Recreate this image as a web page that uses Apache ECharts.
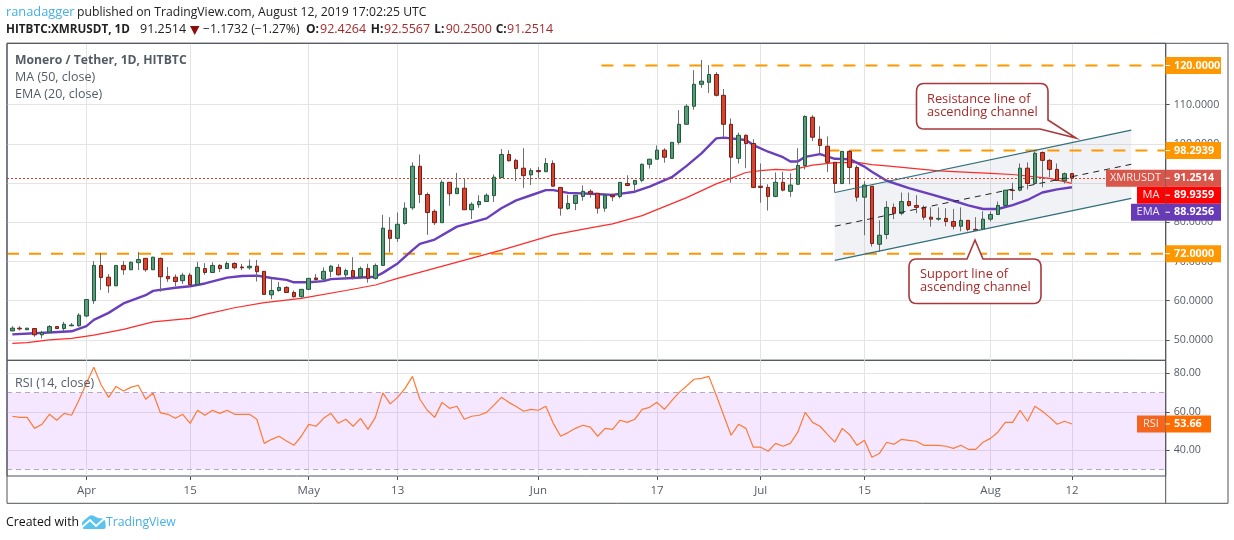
<!DOCTYPE html>
<html><head><meta charset="utf-8">
<style>html,body{margin:0;padding:0;background:#fff}#c{width:1234px;height:540px}</style>
<script src="https://cdn.jsdelivr.net/npm/echarts@6/dist/echarts.min.js"></script>
</head><body><div id="c"></div>
<script>
// Dates are day indexes: 0 = 22 Mar 2019, 143 = 12 Aug 2019
const tickDays = [10,24,40,52,71,87,101,115,132,143];
const tickNames = ['Apr','15','May','13','Jun','17','Jul','15','Aug','12'];
const priceTicks = [50,60,70,80,90,100,110];
const rsiTicks = [40,60,80];
// [open, close, low, high]
const ohlc = [
[52.3,53.0,52.2,53.5],[53.0,52.8,52.4,53.5],[52.6,53.0,52.6,53.0],[52.9,51.3,50.8,52.9],[51.3,51.9,50.4,52.3],
[52.0,53.4,51.8,53.8],[53.4,52.9,52.8,53.5],[52.9,54.0,52.2,54.6],[53.6,53.8,53.5,54.3],[53.6,56.3,53.4,56.8],
[56.1,60.3,55.8,60.4],[60.0,69.0,59.2,70.1],[69.0,65.9,62.7,72.2],[66.0,63.8,62.0,66.8],[63.8,69.0,63.8,69.0],
[69.0,67.9,66.6,70.1],[67.9,69.8,67.8,70.0],[69.7,70.5,67.8,72.4],[70.8,67.9,67.4,70.9],[67.9,71.1,67.8,71.2],
[70.8,66.1,62.3,71.0],[66.2,65.6,64.8,68.6],[66.0,64.9,63.7,66.7],[65.1,66.5,64.3,67.1],[66.5,64.1,63.7,67.1],
[64.1,68.5,63.9,69.9],[68.2,67.2,66.6,69.6],[67.2,69.0,67.1,69.8],[69.0,68.2,67.3,69.3],[68.2,69.5,68.1,70.0],
[69.5,68.4,68.0,69.8],[68.6,68.4,67.8,69.4],[68.4,68.8,67.9,70.5],[68.8,67.4,64.9,70.4],[67.5,61.6,61.6,67.5],
[61.5,62.6,60.4,65.5],[62.6,63.4,62.3,64.8],[63.4,62.1,62.0,63.7],[62.1,61.0,60.8,62.6],[61.0,62.9,60.8,62.9],
[62.9,65.7,62.7,65.7],[65.8,65.4,64.8,66.8],[65.5,67.5,64.9,68.5],[67.5,68.8,66.0,69.1],[68.5,66.6,66.4,69.3],
[66.6,67.7,65.4,68.2],[67.7,66.1,65.4,71.1],[66.1,68.2,65.5,68.7],[68.2,65.7,64.6,69.4],[65.7,69.0,65.4,69.5],
[69.0,78.5,69.0,81.9],[78.0,75.9,72.3,81.3],[75.9,79.5,75.0,82.5],[79.7,83.6,79.4,85.1],[83.7,94.3,83.2,95.3],
[94.3,87.1,84.9,97.3],[87.1,82.5,76.8,87.6],[82.8,79.9,79.3,83.3],[79.9,90.2,79.9,90.7],[90.2,87.3,84.2,90.2],
[87.3,88.7,87.3,92.6],[88.7,83.2,83.2,91.2],[83.2,84.6,80.8,85.1],[84.5,85.3,83.7,86.9],[85.3,86.9,85.3,87.4],
[86.8,91.5,85.2,92.2],[91.4,97.3,91.4,98.7],[97.3,95.7,95.5,98.4],[95.8,93.7,90.5,96.2],[93.8,91.9,88.8,98.9],
[92.1,93.2,89.5,93.8],[93.2,92.9,91.2,94.1],[92.9,95.0,92.9,96.4],[95.0,89.2,89.2,95.8],[88.9,83.6,81.7,88.9],
[83.5,84.8,83.2,87.0],[84.8,86.9,83.1,86.9],[86.6,87.9,85.5,89.4],[87.9,87.4,86.3,88.4],[87.4,83.6,82.2,87.4],
[83.6,86.9,82.7,87.4],[86.9,86.5,85.4,87.3],[86.6,90.2,86.1,90.2],[89.9,89.4,89.2,92.0],[89.7,90.7,87.8,90.7],
[90.7,94.8,90.2,95.0],[94.8,96.1,93.7,96.1],[96.1,98.4,96.1,99.6],[98.4,96.6,95.2,98.9],[96.3,100.4,96.3,100.4],
[100.4,105.0,99.8,108.6],[105.0,109.6,105.0,110.1],[109.6,115.2,108.7,118.8],[115.2,116.0,114.3,121.4],[115.7,117.7,113.0,120.1],
[117.7,112.4,112.1,118.3],[112.4,105.0,101.7,114.0],[105.0,96.6,90.1,106.5],[96.3,102.2,95.0,102.9],[102.2,100.1,93.8,102.4],
[100.1,88.9,88.7,101.2],[89.2,88.9,85.0,95.0],[88.9,86.6,83.0,89.7],[86.6,90.2,86.4,92.7],[90.2,88.2,87.9,92.9],
[87.9,89.5,86.5,92.5],[89.7,94.5,89.7,98.9],[94.5,107.0,93.5,107.3],[106.8,101.7,100.7,107.3],[101.2,99.6,97.6,104.5],
[99.4,95.3,92.8,101.9],[95.3,89.9,87.6,95.3],[89.9,98.1,89.7,98.1],[98.1,94.0,89.7,98.4],[94.0,86.4,85.3,94.5],
[86.4,89.5,76.7,90.5],[89.2,74.6,73.8,89.2],[74.4,76.7,72.5,80.5],[76.9,83.8,75.7,85.4],[83.8,82.3,80.8,84.8],
[82.3,85.3,81.8,87.6],[85.3,84.3,84.0,87.6],[84.3,83.8,82.3,86.9],[83.8,81.3,80.6,84.3],[81.3,80.8,78.9,83.8],
[80.8,81.0,80.4,83.8],[81.0,80.2,79.0,83.6],[80.2,79.0,78.2,83.4],[79.0,80.5,77.7,83.8],[80.5,78.2,77.7,80.5],
[78.2,78.0,78.0,81.3],[78.2,80.8,78.0,82.8],[80.8,82.0,80.2,82.8],[82.0,84.3,82.0,85.3],[84.3,88.2,84.1,88.2],
[88.2,88.1,85.7,90.1],[88.2,93.8,87.9,95.0],[93.8,89.9,88.4,95.3],[89.9,97.6,89.7,98.1],[97.8,95.8,88.9,98.1],
[95.8,93.5,91.5,96.1],[93.5,90.7,90.6,95.0],[90.6,92.4,89.9,92.7],[92.4264,91.2514,90.25,92.5567]
];
// moving averages: [day, value] as read at knots of the picture
const ema20 = [[0,51.4],[3,51.7],[5,51.9],[8,52.2],[10,53.5],[11,55.1],[13,56.9],[15,59.3],[18,61.4],[19,62.5],[22,63.3],[24,63.7],[26,64.4],[29,65.9],[31,66.3],[33,66.4],[35,65.8],[37,65.3],[38,64.7],[40,64.7],[42,65.0],[43,65.5],[46,65.8],[49,66.1],[50,67.1],[52,69.5],[54,72.9],[55,74.5],[57,75.6],[60,78.9],[64,81.0],[66,83.6],[68,85.6],[70,86.9],[72,88.2],[73,88.2],[75,87.5],[78,87.3],[81,87.0],[84,87.8],[86,89.1],[89,91.5],[91,94.4],[93,97.6],[95,101.4],[96,101.6],[99,101.0],[100,99.7],[102,98.0],[104,96.6],[105,95.5],[106,95.5],[107,96.7],[109,97.4],[111,96.2],[113,96.1],[115,94.2],[116,92.9],[118,90.6],[121,88.7],[124,87.1],[127,85.5],[129,84.3],[131,83.4],[133,83.4],[135,84.4],[137,85.7],[139,87.6],[141,88.4],[143,88.9256]];
const ma50 = [[0,49.1],[2,49.3],[5,50.0],[8,50.4],[11,51.2],[15,52.7],[19,54.6],[24,55.5],[26,56.5],[30,58.2],[34,59.5],[39,60.6],[45,62.6],[49,64.0],[52,65.7],[66,72.9],[73,76.8],[78,78.6],[81,79.6],[85,81.7],[88,84.0],[91,86.3],[95,89.8],[97,91.2],[99,92.7],[101,93.2],[103,93.5],[105,93.3],[108,94.6],[111,95.2],[114,95.3],[116,94.7],[118,94.4],[125,93.1],[132,92.5],[135,92.2],[140,91.2],[143,89.9359]];
const rsi14 = [57.7,57.1,57.1,51.4,53.5,58.7,55.6,59.2,58.2,66.1,74.8,83.1,73.9,67.5,73.2,70.8,72.7,73.8,66.5,69.8,
59.4,58.7,56.6,58.7,54,60.8,58.2,60.8,59.2,60.8,58.7,58.7,58.7,56.1,43.6,45.7,47.3,44.8,42.6,47.3,
53.5,52.5,56.6,59.2,54,56.1,52.5,56.6,50.9,57.1,69.8,64.1,67.5,72.2,78.4,66.5,60.8,57.1,64.9,61.8,
62.9,56.1,57.7,58.2,59.7,63.5,67.5,64.9,62.7,60.3,61.3,60.8,62.9,54,47.3,49.2,51.4,53,52,47.3,
51.4,50.9,55.6,54.5,56.1,61.3,62.3,64.9,61.3,65.8,70.1,73.4,76.9,77.4,78.4,68.6,58.2,47.8,53.5,51.4,
41.6,41.6,39.5,43.6,42.1,43.6,49.4,59.7,54.5,52.5,48.3,44.2,51.4,48.1,42.6,45.2,36.4,38.3,44.2,43.1,
45.7,45.2,44.7,42.6,42.6,42.6,42.1,41,42.6,40.5,40.5,44.2,46.2,49.4,54.5,54.5,60.8,55.1,62.9,60.3,
57.1,53.5,55.1,53.66];
// drawn levels and channel: [day, price]
const level120 = [[79.5,120],[155.65,120]];
const level98 = [[110,98.2939],[155.65,98.2939]];
const level72 = [[-0.715,72],[155.65,72]];
const channelTop = [[111,87.6],[151,103.5]];
const channelMid = [[111,79.0],[151,94.8]];
const channelBottom = [[111,70.3],[151,86.1]];
const lastPrice = 91.2514;

const FONT = '"Open Sans", sans-serif';
const GREY = '#555b66';
const AXIS = '#50535e';
const upFill = '#5b9a78', upLine = '#1d5b3c', dnFill = '#d6442f', dnLine = '#7a1d12';

const chart = echarts.init(document.getElementById('c'), null, {renderer:'canvas'});
const rows = ohlc.map((r,i)=>[i,r[0],r[1],r[2],r[3]]);
const bodies = ohlc.map((r,i)=>[i,r[0],r[1],Math.min(r[0],r[1]),Math.max(r[0],r[1])]);
const rsiPts = rsi14.map((v,i)=>[i,v]);
const dim = {x:0,y:[1,2,3,4]};
const xCommon = {type:'value',min:-0.715,max:155.65,
  axisLine:{show:false,onZero:false},
  splitLine:{show:true,lineStyle:{color:'#e4e4e4',width:1}}};
const levelLine = (name,data)=>({name,type:'line',data,xAxisIndex:0,yAxisIndex:0,symbol:'none',z:3,silent:true,
  lineStyle:{color:'#ff9800',width:2,type:[12,10]}});
const channelLine = (name,data,style)=>({name,type:'line',data,xAxisIndex:0,yAxisIndex:0,symbol:'none',z:6,silent:true,lineStyle:style});

chart.setOption({
  animation:false,
  backgroundColor:'#fff',
  grid:[
    {left:7,right:68.3,top:43.3,height:317,show:true,borderColor:AXIS,borderWidth:1,backgroundColor:'transparent'},
    {left:7,right:68.3,top:360.3,height:115.7,show:true,borderColor:AXIS,borderWidth:1,backgroundColor:'transparent'}
  ],
  xAxis:[
    Object.assign({},xCommon,{gridIndex:0,axisLabel:{show:false},axisTick:{show:false,customValues:tickDays}}),
    Object.assign({},xCommon,{gridIndex:1,
      axisTick:{show:true,length:4,lineStyle:{color:AXIS},customValues:tickDays},
      axisLabel:{show:true,customValues:tickDays,margin:9,color:GREY,fontFamily:FONT,fontSize:11.5,
        formatter:v=>tickNames[tickDays.indexOf(v)]}})
  ],
  yAxis:[
    {type:'value',gridIndex:0,position:'right',min:44.8,max:125.66,
      axisLine:{show:false,onZero:false},
      axisTick:{show:true,length:4,lineStyle:{color:AXIS},customValues:priceTicks},
      axisLabel:{show:true,customValues:priceTicks,margin:8,color:GREY,fontFamily:FONT,fontSize:10.7,formatter:v=>v.toFixed(4)},
      splitLine:{show:true,lineStyle:{color:'#e4e4e4',width:1}}},
    {type:'value',gridIndex:1,position:'right',min:26.65,max:86.75,
      axisLine:{show:false,onZero:false},
      axisTick:{show:true,length:4,lineStyle:{color:AXIS},customValues:rsiTicks},
      axisLabel:{show:true,customValues:rsiTicks,margin:8,color:GREY,fontFamily:FONT,fontSize:10.7,formatter:v=>v.toFixed(2)},
      splitLine:{show:true,lineStyle:{color:'#e4e4e4',width:1}}}
  ],
  series:[
    {name:'Channel',type:'custom',xAxisIndex:0,yAxisIndex:0,z:1,silent:true,clip:true,
      data:[[channelTop[0][0],channelTop[0][1],channelBottom[0][1],channelTop[1][0],channelTop[1][1],channelBottom[1][1]]],
      encode:{x:[0,3],y:[1,2,4,5]},
      renderItem:(p,api)=>({type:'polygon',
        shape:{points:[api.coord([api.value(0),api.value(1)]),api.coord([api.value(3),api.value(4)]),
                       api.coord([api.value(3),api.value(5)]),api.coord([api.value(0),api.value(2)])]},
        style:{fill:'rgba(120,140,160,0.11)',stroke:null}})},
    levelLine('Level 120',level120),levelLine('Level 98.2939',level98),levelLine('Level 72',level72),
    {name:'MA (50, close)',type:'line',data:ma50,xAxisIndex:0,yAxisIndex:0,symbol:'none',z:4,silent:true,
      lineStyle:{color:'#ff2a2a',width:1.2},
      markLine:{silent:true,symbol:'none',label:{show:false},data:[{yAxis:lastPrice}],
        lineStyle:{color:'#e53a2a',width:1,type:[2,2]}}},
    {name:'EMA (20, close)',type:'line',data:ema20,xAxisIndex:0,yAxisIndex:0,symbol:'none',z:4,silent:true,
      lineStyle:{color:'#6a3fbc',width:2.4}},
    {name:'Wicks',type:'candlestick',data:rows,encode:dim,xAxisIndex:0,yAxisIndex:0,z:5,silent:true,barWidth:1,
      itemStyle:{color:'#6e6e6e',color0:'#6e6e6e',borderColor:'#6e6e6e',borderColor0:'#6e6e6e',borderWidth:1}},
    {name:'XMRUSDT',type:'candlestick',data:bodies,encode:dim,xAxisIndex:0,yAxisIndex:0,z:5.5,silent:true,barWidth:4,
      itemStyle:{color:upFill,color0:dnFill,borderColor:upLine,borderColor0:dnLine,borderWidth:1}},
    channelLine('Channel top',channelTop,{color:'#2f6f7a',width:1.2}),
    channelLine('Channel mid',channelMid,{color:'#222',width:1,type:[6,5]}),
    channelLine('Channel bottom',channelBottom,{color:'#2f6f7a',width:1.2}),
    {name:'RSI (14, close)',type:'line',data:rsiPts,xAxisIndex:1,yAxisIndex:1,symbol:'none',z:4,silent:true,
      lineStyle:{color:'#ff7a33',width:1.2},
      markArea:{silent:true,itemStyle:{color:'rgba(153,40,255,0.11)'},data:[[{yAxis:30},{yAxis:70}]]},
      markLine:{silent:true,symbol:'none',label:{show:false},data:[{yAxis:70},{yAxis:30}],
        lineStyle:{color:'#b4a8bb',width:1,type:[5,4]}}}
  ]
});

function txt(x,y,text,o){o=o||{};return {type:'text',z:o.z||50,x,y,silent:true,style:{text,fill:o.fill||'#222',
  font:(o.weight||'normal')+' '+(o.size||12.5)+'px '+FONT,textAlign:o.align||'left',textVerticalAlign:'middle'}};}
function box(x,y,w,h,fill){return {type:'rect',z:48,silent:true,shape:{x,y,width:w,height:h},style:{fill}};}
function tag(yc,name,nameX,nameFill,value,valFill,right){
  const out=[];
  if(name){out.push(box(nameX,yc-8.5,1165-nameX,17,nameFill));
    out.push(txt((nameX+1165)/2,yc,name,{fill:'rgba(255,255,255,0.9)',align:'center',z:51,size:11}));}
  out.push(box(1165.5,yc-8.5,(right||1221)-1165.5,17,valFill));
  out.push(txt(1174,yc,value,{fill:'#fff',weight:'bold',size:10.8,z:51}));
  out.push({type:'line',z:49,silent:true,shape:{x1:1165.5,y1:yc,x2:1170,y2:yc},style:{stroke:'#fff',lineWidth:1}});
  return out;
}
// polygon with rounded corners: vertices marked with r>0 are rounded
function rounded(vs){
  const pts=[];const n=vs.length;
  vs.forEach((v,i)=>{
    const r=v[2]||0;
    if(!r){pts.push([v[0],v[1]]);return;}
    const a=vs[(i+n-1)%n],b=vs[(i+1)%n];
    const la=Math.hypot(a[0]-v[0],a[1]-v[1]),lb=Math.hypot(b[0]-v[0],b[1]-v[1]);
    const p0=[v[0]+(a[0]-v[0])*r/la,v[1]+(a[1]-v[1])*r/la],p2=[v[0]+(b[0]-v[0])*r/lb,v[1]+(b[1]-v[1])*r/lb];
    for(let t=0;t<=1.001;t+=0.2){const u=1-t;pts.push([u*u*p0[0]+2*u*t*v[0]+t*t*p2[0],u*u*p0[1]+2*u*t*v[1]+t*t*p2[1]]);}
  });
  return pts;
}
const py = v=>chart.convertToPixel({xAxisIndex:0,yAxisIndex:0},[0,v])[1];
const ry = v=>chart.convertToPixel({xAxisIndex:1,yAxisIndex:1},[0,v])[1];
const RED='#a62a2a';
const calloutStroke='#a8383c';
const callout1=rounded([[916.5,83.5,8],[1048,83.5,8],[1048,120],[1076,138],[1040,129],[916.5,129,8]]);
const callout2=rounded([[909,259,8],[967,259],[975,240],[983,259],[1041,259,8],[1041,303.5,8],[909,303.5,8]]);
const logo=rounded([[82,529,3],[82,522,2],[91,514.5,3],[98,518],[105,518.5,4],[106,529,3]]);
const g=[
  {type:'rect',z:40,silent:true,shape:{x:7,y:43.3,width:1221,height:460},style:{fill:'none',stroke:AXIS,lineWidth:1}},
  {type:'line',z:40,silent:true,shape:{x1:1165.7,y1:43.3,x2:1165.7,y2:503.3},style:{stroke:AXIS,lineWidth:1}},
  txt(6,12.5,'ranadagger',{fill:'#44b0e6',size:12.8}),
  txt(77,12.5,'published on TradingView.com, August 12, 2019 17:02:25 UTC',{size:12.2}),
  txt(6,29.5,'HITBTC:XMRUSDT, 1D',{weight:'bold',size:11.7}),
  txt(140,29.5,'91.2514',{size:12.5}),
  {type:'polygon',z:50,silent:true,shape:{points:[[190,26],[199.5,26],[194.7,35]]},style:{fill:'#8b0e0e'}},
  txt(203,29.5,'\u22121.1732 (\u22121.27%)',{size:12.2}),
  txt(306,29.5,'O:',{weight:'bold',size:12}),txt(320,29.5,'92.4264',{fill:RED,size:12.5}),
  txt(370.7,29.5,'H:',{weight:'bold',size:12}),txt(384,29.5,'92.5567',{fill:RED,size:12.5}),
  txt(434.3,29.5,'L:',{weight:'bold',size:12}),txt(445.7,29.5,'90.2500',{fill:RED,size:12.5}),
  txt(495.7,29.5,'C:',{weight:'bold',size:12}),txt(507,29.5,'91.2514',{fill:RED,size:12.5}),
  txt(15,60.5,'Monero / Tether, 1D, HITBTC',{fill:GREY,weight:'bold',size:12.2}),
  txt(15,77.5,'MA (50, close)',{fill:GREY}),
  txt(15,94.5,'EMA (20, close)',{fill:GREY}),
  txt(15,383,'RSI (14, close)',{fill:GREY}),
  {type:'polygon',z:45,silent:true,shape:{points:callout1},style:{fill:'#fff',stroke:calloutStroke,lineWidth:1.6}},
  {type:'polygon',z:45,silent:true,shape:{points:callout2},style:{fill:'#fff',stroke:calloutStroke,lineWidth:1.6}},
  txt(927,99.5,'Resistance line of',{fill:RED,size:12.8}),
  txt(927,112,'ascending channel',{fill:RED,size:12.8}),
  txt(920,274.5,'Support line of',{fill:RED,size:12.8}),
  txt(920,287,'ascending channel',{fill:RED,size:12.8}),
  txt(6,522.5,'Created with',{fill:'#111',size:12.3}),
  {type:'polygon',z:50,silent:true,shape:{points:logo},style:{fill:'#5ac4ee'}},
  {type:'polyline',z:51,silent:true,shape:{points:[[81,528],[90,520],[96,526],[105,518]]},style:{stroke:'#fff',lineWidth:1.8,fill:'none'}},
  txt(106,522.5,'TradingView',{fill:'#44b0e6',size:12.2})
];
g.push(...tag(py(120),null,0,null,'120.0000','#ff9800'));
g.push(...tag(py(98.2939),null,0,null,'98.2939','#ff9800'));
g.push(...tag(py(72),null,0,null,'72.0000','#ff9800'));
const yLast=py(lastPrice);
g.push(...tag(yLast,'XMRUSDT',1106,'#d9564a','91.2514','#d9564a'));
g.push(...tag(yLast+17,'MA',1137,'#ff0000','89.9359','#ff0000'));
g.push(...tag(yLast+34,'EMA',1131,'#673ab7','88.9256','#673ab7'));
g.push(...tag(ry(53.66),'RSI',1137,'#f5651e','53.66','#ff6d00',1211));
chart.setOption({graphic:{elements:g}});
</script></body></html>
